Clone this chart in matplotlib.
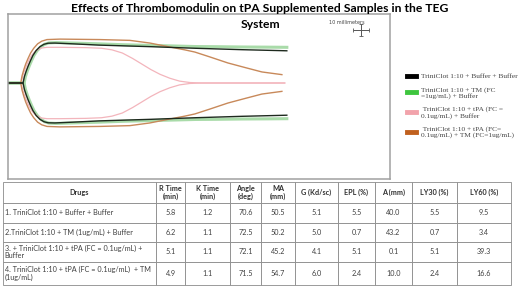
import matplotlib
matplotlib.use("Agg")
from matplotlib import pyplot as plt
from matplotlib.lines import Line2D

# TEG tracings: time (min) and half amplitude (mm)
black_t = [0, 5.8, 6.3, 7.0, 7.7, 8.6, 9.6, 10.8, 12.3, 13.8, 15.4, 18, 25, 35, 45, 55, 65, 72, 80, 90, 100, 107.3]
black_a = [0, 0, 4, 7.5, 10.5, 14, 17.5, 20.5, 23, 24.5, 25.2, 25.3, 24.8, 24.0, 23.5, 23.0, 22.4, 22.0, 21.6, 21.1, 20.7, 20.4]

green_t = [0, 6.2, 6.7, 7.4, 8.1, 9.0, 10.0, 11.2, 12.7, 14.2, 15.8, 18.5, 25, 35, 45, 55, 65, 72, 80, 90, 100, 107.3]
green_a = [0, 0, 4, 7.5, 10.5, 14, 17.5, 20.5, 23, 24.6, 25.4, 25.6, 25.3, 24.8, 24.2, 23.8, 23.4, 23.1, 23.0, 22.8, 22.7, 22.6]

pink_t = [0, 5.1, 5.6, 6.3, 7.0, 7.9, 8.9, 10.1, 11.6, 13.1, 15, 20, 30, 36, 40, 44, 48, 51.5, 55, 58.5, 62.3, 66, 70, 74, 106.5]
pink_a = [0, 0, 4, 7.5, 10.5, 14, 17, 19.5, 21.3, 22.2, 22.6, 22.6, 22.4, 22, 21, 19, 15.5, 12, 8.5, 5.5, 3, 1.2, 0.3, 0, 0]

orange_t = [0, 4.9, 5.4, 6.1, 6.8, 7.7, 8.7, 9.9, 11.4, 13, 15, 20, 35.4, 46.9, 54.6, 62.3, 68, 71.9, 77.7, 84.6, 91.2, 97.7, 105.4]
orange_a = [0, 0, 4.5, 8.5, 12, 15.5, 19, 22, 24.8, 26.5, 27.5, 27.8, 27.5, 27, 25.3, 22.8, 21, 19.6, 16.5, 12.7, 9.8, 7, 5.3]

labels = ["TriniClot 1:10 + Buffer + Buffer",
          "TriniClot 1:10 + TM (FC\n=1ug/mL) + Buffer",
          " TriniClot 1:10 + tPA (FC =\n0.1ug/mL) + Buffer",
          " TriniClot 1:10 + tPA (FC=\n0.1ug/mL) + TM (FC=1ug/mL)"]

# table
headers = ["Drugs", "R Time\n(min)", "K Time\n(min)", "Angle\n(deg)", "MA\n(mm)",
           "G (Kd/sc)", "EPL (%)", "A (mm)", "LY30 (%)", "LY60 (%)"]
drugs = ["1. TriniClot 1:10 + Buffer + Buffer",
         "2.TriniClot 1:10 + TM (1ug/mL) + Buffer",
         "3. + TriniClot 1:10 + tPA (FC = 0.1ug/mL) +\nBuffer",
         "4. TriniClot 1:10 + tPA (FC = 0.1ug/mL)  + TM\n(1ug/mL)"]
r_time = [5.8, 6.2, 5.1, 4.9]
k_time = [1.2, 1.1, 1.1, 1.1]
angle = [70.6, 72.5, 72.1, 71.5]
ma = [50.5, 50.2, 45.2, 54.7]
g_val = [5.1, 5.0, 4.1, 6.0]
epl = [5.5, 0.7, 5.1, 2.4]
a_mm = [40.0, 43.2, 0.1, 10.0]
ly30 = [5.5, 0.7, 5.1, 2.4]
ly60 = [9.5, 3.4, 39.3, 16.6]

c_black = "#1e2a1e"
c_green = "#a9dba9"
c_pink = "#f3b5bc"
c_orange = "#c8895a"

fig = plt.figure(figsize=(5.2, 2.87), dpi=100)

ax = fig.add_axes([8/520, 1-179/287, 382/520, 165/287])
ax.plot(green_t, green_a, color=c_green, lw=2.2)
ax.plot(green_t, [-v for v in green_a], color=c_green, lw=2.2)
ax.plot(pink_t, pink_a, color=c_pink, lw=0.9)
ax.plot(pink_t, [-v for v in pink_a], color=c_pink, lw=0.9)
ax.plot(orange_t, orange_a, color=c_orange, lw=1.0)
ax.plot(orange_t, [-v for v in orange_a], color=c_orange, lw=1.0)
ax.plot(black_t, black_a, color=c_black, lw=1.0)
ax.plot(black_t, [-v for v in black_a], color=c_black, lw=1.0)
ax.set_xlim(0, 147)
ax.set_ylim(-60.8, 43.7)
ax.set_xticks([])
ax.set_yticks([])
for s in ax.spines.values():
    s.set_color("#a0a0a0")
    s.set_linewidth(1.1)

# scale marker
ax.errorbar([0.924], [0.903], xerr=[0.021], yerr=[0.036], transform=ax.transAxes,
            color="#555555", lw=0.7, capsize=1.2, capthick=0.6)
ax.text(0.84, 0.95, "10 millimeters", transform=ax.transAxes, fontsize=3.5,
        color="#444444", ha="left", va="center")

fig.text(0.5, 1-8/287, "Effects of Thrombomodulin on tPA Supplemented Samples in the TEG",
         fontsize=8.7, fontweight="bold", family="Lato", ha="center", va="center")
fig.text(0.5, 1-24/287, "System", fontsize=8.7, fontweight="bold", family="Lato",
         ha="center", va="center")

handles = [Line2D([], [], color="#000000", lw=3.5),
           Line2D([], [], color="#3ec53e", lw=3.5),
           Line2D([], [], color="#f2a3ab", lw=3.5),
           Line2D([], [], color="#c0601e", lw=3.5)]
leg = fig.legend(handles, labels, loc="upper left", bbox_to_anchor=(404/520, 1-70/287),
                 frameon=False, prop={"family": "Liberation Serif", "size": 5.3},
                 handlelength=1.2, handletextpad=0.7, labelspacing=1.05, borderaxespad=0)
for t in leg.get_texts():
    t.set_color("#444444")
    t.set_linespacing(1.05)

# table of results
rows = []
for i in range(4):
    rows.append([drugs[i], r_time[i], k_time[i], angle[i], ma[i], g_val[i],
                 epl[i], "%.1f" % a_mm[i], ly30[i], ly60[i]])
rows = [[str(v) for v in r] for r in rows]
col_w = [153, 29, 45, 31, 34, 43, 37, 37, 45, 54]
row_h = [21, 20, 19, 20, 23]

tax = fig.add_axes([3/520, 1-285/287, 508/520, 103/287])
tax.axis("off")
tbl = tax.table(cellText=rows, colLabels=headers, colWidths=col_w, bbox=[0, 0, 1, 1],
                cellLoc="center")
tbl.auto_set_font_size(False)
tbl.set_fontsize(5.2)
for (r, c), cell in tbl.get_celld().items():
    cell.set_height(row_h[r])
    cell.set_edgecolor("#8a8a8a")
    cell.set_linewidth(0.6)
    cell.get_text().set_color("#404040")
    cell.get_text().set_family("Lato")
    cell.get_text().set_linespacing(1.1)
    if r == 0:
        cell.get_text().set_fontweight("bold")
        cell.get_text().set_color("#303030")
    elif c == 0:
        cell.get_text().set_ha("left")
        cell.PAD = 0.012

fig.savefig("out.png", dpi=100)
